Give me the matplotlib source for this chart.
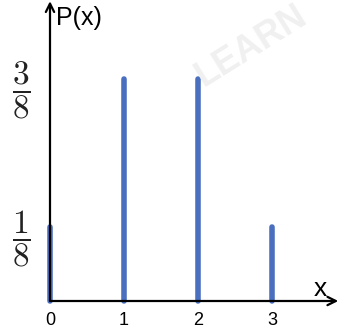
import matplotlib.pyplot as plt
import numpy as np

plt.rcParams['mathtext.fontset'] = 'cm'
plt.rcParams['font.family'] = ['Liberation Sans', 'DejaVu Sans']

# P(x) for number of heads in 3 coin tosses
x_vals = [0, 1, 2, 3]
probs = [1 / 8, 3 / 8, 3 / 8, 1 / 8]
ytick_vals = [1 / 8, 3 / 8]
ytick_labels = [r'$\dfrac{1}{8}$', r'$\dfrac{3}{8}$']

fig = plt.figure(figsize=(3.39, 3.31), dpi=100)
ax = fig.add_axes([50 / 339, 30 / 331, 289 / 339, 301 / 331])
xmax = 289 / 74
ymax = 301 / 74 / 8
ax.set_xlim(0, xmax)
ax.set_ylim(0, ymax)
for s in ax.spines.values():
    s.set_visible(False)

# faint watermark
fig.text(0.74, 0.86, 'LEARN', fontsize=26, fontweight='bold', color='#f0f0f0',
         rotation=32, ha='center', va='center', zorder=0)

# bars as thick lines
ax.vlines(x_vals, 0, probs, colors='#4a6fbf', linewidth=4, capstyle='round',
          zorder=3, clip_on=False)

# axes with arrows
ax.annotate('', xy=(0, ymax - 0.002), xytext=(0, 0),
            arrowprops=dict(arrowstyle='->', lw=1.6, color='black', shrinkA=0, shrinkB=0,
                            mutation_scale=15), annotation_clip=False)
ax.annotate('', xy=(xmax - 0.01, 0), xytext=(0, 0),
            arrowprops=dict(arrowstyle='->', lw=1.6, color='black', shrinkA=0, shrinkB=0,
                            mutation_scale=15), annotation_clip=False)

ax.set_xticks(x_vals)
ax.set_xticklabels([str(v) for v in x_vals], fontsize=13)
ax.set_yticks(ytick_vals)
ax.set_yticklabels(ytick_labels, fontsize=24, color='#222222')
ax.tick_params(axis='x', length=0, pad=8)
ax.tick_params(axis='y', length=0, pad=14)

ax.text(0.08, ymax - 0.03, 'P(x)', fontsize=18, va='center', ha='left')
ax.text(xmax - 0.25, 0.02, 'x', fontsize=19, va='center', ha='center')

fig.savefig('out.png', dpi=100)
